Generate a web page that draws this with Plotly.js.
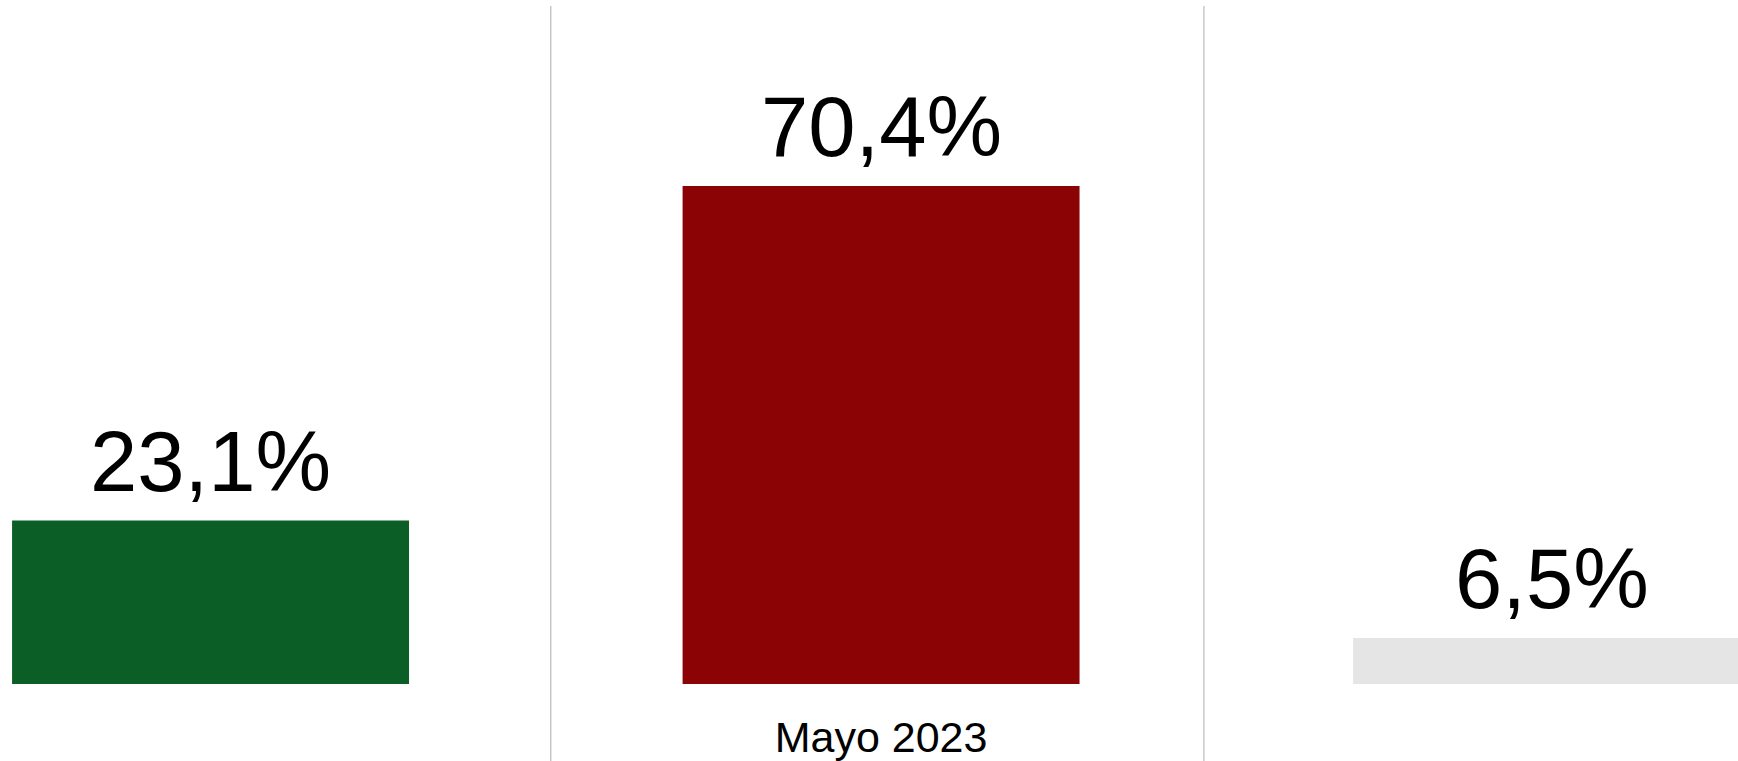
<!DOCTYPE html>
<html>
<head>
<meta charset="utf-8">
<script src="https://cdn.plot.ly/plotly-3.0.1.min.js"></script>
<style>
  html, body { margin: 0; padding: 0; background: #ffffff; }
  #chart { width: 1738px; height: 761px; }
</style>
</head>
<body>
<div id="chart"></div>
<script>
// ---- data ----
const categories = ['Mayo 2023'];
const seriesNames = ['Serie 1', 'Serie 2', 'Serie 3'];
const seriesValues = [23.1, 70.4, 6.5];
const seriesColors = ['#0B5E26', '#8B0305', '#E5E5E5'];

function fmt(v) {
  return v.toFixed(1).replace('.', ',') + '%';
}

const FONT = 'Liberation Sans, Arial, Helvetica, sans-serif';
const BARGAP = 0;
const nSeries = seriesNames.length;

const traces = seriesNames.map((name, i) => ({
  type: 'bar',
  name: name,
  x: categories,
  y: [seriesValues[i]],
  marker: { color: seriesColors[i], line: { width: 0 } },
  hoverinfo: 'name+y'
}));

// value labels placed above each grouped bar (group offset derived from bar layout)
const annotations = seriesNames.map((name, i) => ({
  xref: 'x', yref: 'y',
  x: 0 + (i - (nSeries - 1) / 2) * (1 - BARGAP) / nSeries,
  y: seriesValues[i],
  text: fmt(seriesValues[i]),
  showarrow: false,
  xanchor: 'center',
  yanchor: 'bottom',
  yshift: 10,
  font: { family: FONT, size: 85, color: '#000000' }
}));

const layout = {
  width: 1738,
  height: 761,
  margin: { l: 0, r: 0, t: 0, b: 77, pad: 0 },
  paper_bgcolor: '#ffffff',
  plot_bgcolor: '#ffffff',
  showlegend: false,
  barmode: 'group',
  bargap: BARGAP,
  bargroupgap: 0.408,
  font: { family: FONT, color: '#000000' },
  xaxis: {
    type: 'category',
    range: [-0.438, 0.426],
    showgrid: false,
    zeroline: false,
    showline: false,
    ticks: '',
    ticklabelstandoff: 24,
    tickfont: { family: FONT, size: 43, color: '#000000' },
    fixedrange: true
  },
  yaxis: {
    range: [0, 96.69],
    showgrid: false,
    zeroline: false,
    showline: false,
    showticklabels: false,
    ticks: '',
    fixedrange: true
  },
  annotations: annotations,
  shapes: [0.3169, 0.6927].map(px => ({
    type: 'line',
    xref: 'paper', yref: 'paper',
    x0: px, x1: px,
    y0: -77 / 684, y1: (684 - 6) / 684,
    line: { color: '#BFBFBF', width: 1.3 }
  }))
};

Plotly.newPlot('chart', traces, layout, { displayModeBar: false, staticPlot: true });
</script>
</body>
</html>
